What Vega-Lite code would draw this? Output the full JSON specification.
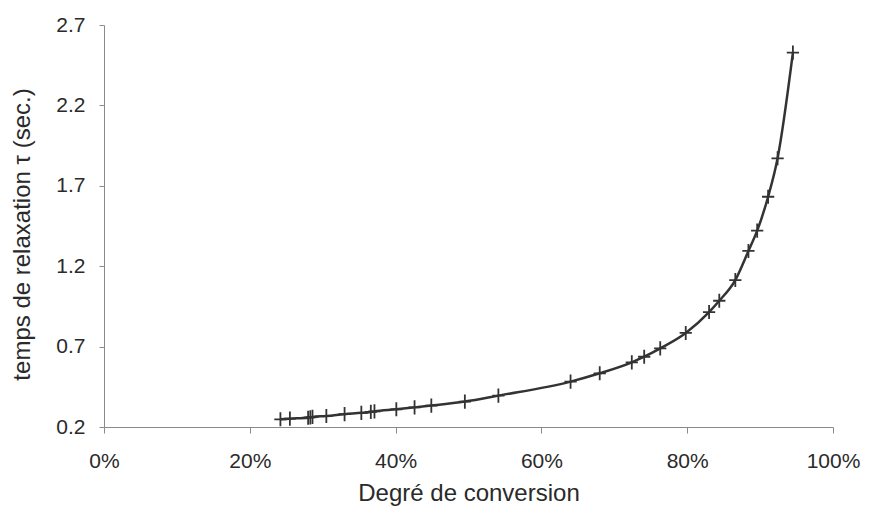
{
  "$schema": "https://vega.github.io/schema/vega-lite/v6.json",
  "autosize": {"type": "none"},
  "width": 729,
  "height": 402,
  "padding": {"left": 104, "top": 25, "right": 36, "bottom": 94},
  "background": "white",
  "config": {
    "view": {"stroke": null},
    "font": "Liberation Sans",
    "axis": {
      "grid": false,
      "domainColor": "#8a8a8a",
      "tickColor": "#8a8a8a",
      "labelFont": "Liberation Sans",
      "labelFontSize": 21,
      "labelColor": "#2a2a2a",
      "titleFont": "Liberation Sans",
      "titleFontSize": 24,
      "titleFontWeight": "normal",
      "titleColor": "#2a2a2a"
    }
  },
  "data": {
    "values": [
      {"conv": 0.242, "tau": 0.248},
      {"conv": 0.255, "tau": 0.252},
      {"conv": 0.280, "tau": 0.258},
      {"conv": 0.283, "tau": 0.260},
      {"conv": 0.286, "tau": 0.263},
      {"conv": 0.305, "tau": 0.268},
      {"conv": 0.330, "tau": 0.280},
      {"conv": 0.353, "tau": 0.288},
      {"conv": 0.366, "tau": 0.294},
      {"conv": 0.371, "tau": 0.297},
      {"conv": 0.401, "tau": 0.310},
      {"conv": 0.426, "tau": 0.322},
      {"conv": 0.449, "tau": 0.333},
      {"conv": 0.495, "tau": 0.358},
      {"conv": 0.541, "tau": 0.395},
      {"conv": 0.640, "tau": 0.482},
      {"conv": 0.680, "tau": 0.534},
      {"conv": 0.724, "tau": 0.602},
      {"conv": 0.741, "tau": 0.637},
      {"conv": 0.763, "tau": 0.689},
      {"conv": 0.798, "tau": 0.785},
      {"conv": 0.830, "tau": 0.915},
      {"conv": 0.844, "tau": 0.985},
      {"conv": 0.866, "tau": 1.114},
      {"conv": 0.884, "tau": 1.295},
      {"conv": 0.896, "tau": 1.421},
      {"conv": 0.911, "tau": 1.632},
      {"conv": 0.924, "tau": 1.871},
      {"conv": 0.945, "tau": 2.528}
    ]
  },
  "encoding": {
    "x": {
      "field": "conv",
      "type": "quantitative",
      "scale": {"domain": [0, 1], "nice": false, "zero": false},
      "axis": {
        "title": "Degré de conversion",
        "values": [0, 0.2, 0.4, 0.6, 0.8, 1],
        "format": ".0%",
        "tickSize": 6,
        "labelPadding": 17,
        "titleY": 66,
        "titleBaseline": "middle",
        "labelFlush": false
      }
    },
    "y": {
      "field": "tau",
      "type": "quantitative",
      "scale": {"domain": [0.2, 2.7], "nice": false, "zero": false},
      "axis": {
        "title": "temps de relaxation τ (sec.)",
        "values": [0.2, 0.7, 1.2, 1.7, 2.2, 2.7],
        "format": ".1f",
        "tickSize": 5,
        "labelPadding": 14,
        "titleX": -82,
        "titleY": 209,
        "titleBaseline": "middle",
        "labelFlush": false
      }
    }
  },
  "layer": [
    {
      "mark": {"type": "line", "interpolate": "monotone", "color": "#333333", "strokeWidth": 2.5}
    },
    {
      "mark": {
        "type": "point",
        "shape": "M-1,0L1,0M0,-1.15L0,1.15",
        "size": 150,
        "filled": false,
        "stroke": "#333333",
        "strokeWidth": 1.8,
        "opacity": 1
      }
    }
  ]
}
